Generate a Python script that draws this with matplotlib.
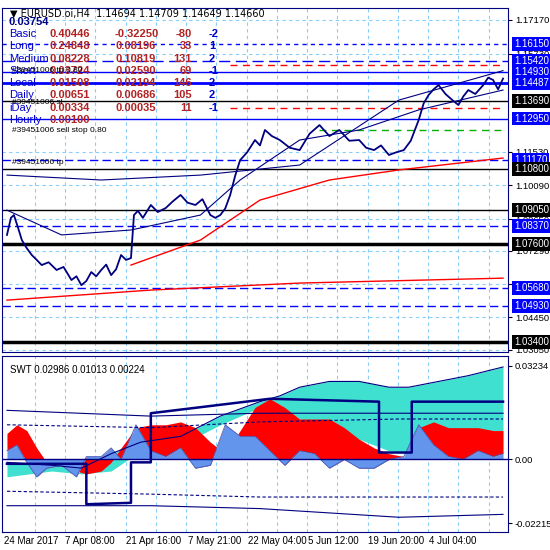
import matplotlib
matplotlib.use("Agg")
import matplotlib.pyplot as plt

# ---- price panel data (bar index, price) ----
price_x = [5, 9, 12, 16, 20, 25, 30, 35, 40, 47, 55, 62, 70, 75, 80, 85, 90, 95, 100, 105, 110, 115, 120, 125, 130,
           133, 137, 142, 150, 157, 165, 172, 180, 187, 195, 202, 210, 215, 220, 225, 230, 235, 240, 247, 255, 260,
           265, 272, 280, 290, 300, 310, 320, 330, 340, 350, 360, 367, 375, 382, 390, 397, 405, 412, 420, 425, 430,
           435, 440, 447, 455, 460, 465, 470, 477, 485, 490, 495, 500, 505]
price_y = [1.0797, 1.0870, 1.0882, 1.0830, 1.0775, 1.0740, 1.0711, 1.0690, 1.0668, 1.0680, 1.0647, 1.0660, 1.0604,
           1.0620, 1.0582, 1.0600, 1.0638, 1.0620, 1.0647, 1.0670, 1.0625, 1.0650, 1.0711, 1.0690, 1.0698,
           1.0882, 1.0900, 1.0870, 1.0925, 1.0895, 1.0912, 1.0940, 1.0968, 1.0935, 1.0925, 1.0950, 1.0882, 1.0870,
           1.0882, 1.0910, 1.0968, 1.1050, 1.1117, 1.1150, 1.1203, 1.1180, 1.1246, 1.1220, 1.1203, 1.1170, 1.1160,
           1.1230, 1.1267, 1.1220, 1.1246, 1.1200, 1.1203, 1.1170, 1.1160, 1.1180, 1.1139, 1.1150, 1.1160, 1.1200,
           1.1289, 1.1360, 1.1396, 1.1420, 1.1438, 1.1400, 1.1370, 1.1353, 1.1390, 1.1417, 1.1400, 1.1438, 1.1470,
           1.1460, 1.1420, 1.1466]
ma_red_x = [130, 200, 260, 330, 400, 505]
ma_red_y = [1.0668, 1.0775, 1.0946, 1.1032, 1.1075, 1.1126]
ma_red2_x = [5, 150, 300, 505]
ma_red2_y = [1.0518, 1.0561, 1.0591, 1.0612]
ma_blue_x = [5, 60, 130, 200, 240, 300, 360, 420, 505]
ma_blue_y = [1.0903, 1.0797, 1.0818, 1.0882, 1.1032, 1.1203, 1.1246, 1.1332, 1.1417]
ma_blue2_x = [5, 100, 200, 300, 400, 505]
ma_blue2_y = [1.1053, 1.1032, 1.1053, 1.1096, 1.1374, 1.1500]

# levels: price, colour, style, width, label box colour
levels = [
    (1.16150, "#0000ff", (0, (3, 3)), 1.0, "#0000ff"),
    (1.15420, "#0000ff", (0, (8, 4)), 1.0, "#0000ff"),
    (1.14930, "#0000ff", "-", 1.0, "#0000ff"),
    (1.14487, "#0000ff", "-", 2.0, "#0000ff"),
    (1.13690, "black", "-", 1.0, "black"),
    (1.12950, "#0000ff", "-", 1.0, "#0000ff"),
    (1.11170, "#0000ff", (0, (6, 3)), 1.0, "#0000ff"),
    (1.10800, "black", "-", 1.0, "black"),
    (1.09050, "black", "-", 1.0, "black"),
    (1.08370, "#0000ff", (0, (6, 3)), 1.0, "#0000ff"),
    (1.07600, "black", "-", 2.5, "black"),
    (1.05680, "#0000ff", (0, (6, 3)), 1.0, "#0000ff"),
    (1.04930, "#0000ff", (0, (6, 3)), 1.0, "#0000ff"),
    (1.03400, "black", "-", 2.5, "black"),
]
plain_ticks = [1.17170, 1.15730, 1.11530, 1.10090, 1.08650, 1.07290, 1.05850, 1.04450, 1.03050]
red_dash = [1.1525, 1.1340]
green_dash = [1.1245]

info_rows = [
    ("Basic", "0.40446", "-0.32250", "-80", "-2"),
    ("Long", "0.24848", "0.08196", "33", "1"),
    ("Medium", "0.08228", "0.10819", "131", "2"),
    ("Short", "0.03724", "0.02590", "69", "-1"),
    ("Local", "0.01508", "0.02194", "146", "2"),
    ("Daily", "0.00651", "0.00686", "105", "2"),
    ("iDay", "0.00334", "0.00035", "11", "-1"),
    ("Hourly", "0.00100", "", "", ""),
]

# ---- oscillator panel data ----
band_x = [5, 50, 80, 110, 140, 180, 220, 260, 280, 300, 330, 360, 390, 410, 440, 470, 505]
band_up = [-0.001, -0.002, -0.003, 0.002, 0.006, 0.008, 0.015, 0.020, 0.022, 0.025, 0.027, 0.027, 0.025, 0.025, 0.027, 0.029, 0.032]
band_lo = [-0.006, -0.004, -0.005, -0.004, 0.003, 0.005, 0.012, 0.018, 0.019, 0.014, 0.012, 0.007, 0.003, 0.002, 0.011, 0.010, 0.010]
osc_x = [5, 15, 25, 35, 45, 60, 75, 85, 100, 110, 120, 135, 150, 165, 180, 195, 210, 225, 240, 255, 270, 285,
         300, 315, 330, 345, 360, 375, 390, 405, 420, 435, 450, 465, 480, 495, 505]
red_v = [0.009, 0.012, 0.010, 0.004, -0.001, -0.002, -0.004, -0.005, -0.004, -0.001, 0.004, 0.011, 0.012, 0.012,
         0.013, 0.011, 0.006, 0.002, 0.010, 0.018, 0.021, 0.018, 0.014, 0.014, 0.014, 0.011, 0.007, 0.004, 0.002,
         0.001, 0.011, 0.013, 0.011, 0.011, 0.011, 0.010, 0.010]
blue_v = [0.003, 0.005, -0.001, -0.006, -0.003, -0.002, -0.006, 0.001, 0.001, 0.004, 0.000, 0.012, 0.003, 0.001,
          0.004, -0.003, -0.002, 0.012, 0.008, 0.008, 0.003, -0.002, 0.003, 0.002, -0.003, 0.000, -0.003, -0.003,
          0.000, 0.001, 0.012, 0.005, 0.001, 0.000, 0.003, 0.001, 0.002]
step_x = [5, 85, 85, 130, 130, 150, 150, 270, 380, 380, 413, 413, 505]
step_y = [-0.0015, -0.0015, -0.0155, -0.015, -0.001, -0.001, 0.016, 0.021, 0.020, 0.0024, 0.0024, 0.020, 0.020]
guide_x = [5, 150, 260, 400, 505]
guide_up = [0.017, 0.015, 0.016, 0.016, 0.016]
guide_upd = [0.012, 0.011, 0.013, 0.014, 0.014]
guide_lod = [-0.011, -0.012, -0.013, -0.013, -0.013]
guide_lo = [-0.016, -0.016, -0.017, -0.020, -0.019]

xtick_pos = [2, 64, 125, 187, 248, 308, 369, 430]
xtick_lab = ["24 Mar 2017", "7 Apr 08:00", "21 Apr 16:00", "7 May 21:00", "22 May 04:00",
             "5 Jun 12:00", "19 Jun 20:00", "4 Jul 04:00"]
grid_x = [33 + 30.5 * i for i in range(16)]

NAVY = "#000080"
GRIDC = "#87cefa"
plt.rcParams["font.family"] = ["Liberation Sans", "DejaVu Sans"]
fig = plt.figure(figsize=(5.5, 5.5), dpi=100)
ax = fig.add_axes([2 / 550, 1 - 352 / 550, 506 / 550, 344 / 550])
ax2 = fig.add_axes([2 / 550, 1 - 532 / 550, 506 / 550, 176 / 550])

for a in (ax, ax2):
    a.set_xlim(0, 510)
    for g in grid_x:
        a.axvline(g, color=GRIDC, lw=0.8, ls=(0, (3, 3)), zorder=0)
    a.tick_params(axis="x", length=0)
    a.yaxis.tick_right()
    a.tick_params(axis="y", labelsize=6.8, length=3, pad=2, colors="black")
    for s in a.spines.values():
        s.set_color(NAVY)

# price panel
ax.set_ylim(1.0296, 1.1768)
for p in plain_ticks:
    ax.axhline(p, color=GRIDC, lw=0.8, ls=(0, (3, 3)), zorder=0)
ax.set_yticks(plain_ticks)
ax.set_yticklabels([f"{p:.5f}" for p in plain_ticks])
ax.set_xticks([])
for p, c, ls, lw, bc in levels:
    ax.axhline(p, color=c, ls=ls, lw=lw, zorder=2)
    ax.text(1.012, p, f"{p:.5f}", transform=ax.get_yaxis_transform(), fontsize=7, color="white",
            va="center", ha="left", zorder=10,
            bbox=dict(boxstyle="square,pad=0.2", facecolor=bc, edgecolor="none"))
for p in red_dash:
    ax.plot([230, 505], [p, p], color="red", ls=(0, (5, 4)), lw=1.0, zorder=2)
for p in green_dash:
    ax.plot([320, 505], [p, p], color="#00b000", ls=(0, (5, 4)), lw=1.0, zorder=2)
ax.plot(ma_red_x, ma_red_y, color="red", lw=1.0, zorder=3)
ax.plot(ma_red2_x, ma_red2_y, color="red", lw=1.0, zorder=3)
ax.plot(ma_blue_x, ma_blue_y, color=NAVY, lw=0.8, zorder=3)
ax.plot(ma_blue2_x, ma_blue2_y, color=NAVY, lw=0.8, zorder=3)
ax.plot(price_x, price_y, color=NAVY, lw=1.3, zorder=4)

ax.text(0.015, 0.998, "\u25bc EURUSD.oi,H4  1.14694 1.14709 1.14649 1.14660", transform=ax.transAxes,
        fontsize=7, va="top", color="black", family=["DejaVu Sans"])
ax.text(0.012, 1 - 14 / 344, "0.03754", transform=ax.transAxes, fontsize=8, fontweight="bold", va="center", color=NAVY)
for i, (lab, v1, v2, n, sg) in enumerate(info_rows):
    yy = 1 - (26 + i * 12.3) / 344
    ax.text(7 / 506, yy, lab, transform=ax.transAxes, fontsize=8, color="#0000cc", va="center")
    ax.text(48 / 506, yy, v1, transform=ax.transAxes, fontsize=8, fontweight="bold", color="#b22222", va="center")
    ax.text(113 / 506, yy, v2, transform=ax.transAxes, fontsize=8, fontweight="bold", color="#b22222", va="center")
    ax.text(190 / 506, yy, n, transform=ax.transAxes, fontsize=8, fontweight="bold", color="#b22222", va="center", ha="right")
    ax.text(207 / 506, yy, sg, transform=ax.transAxes, fontsize=8, fontweight="bold", color="#0000cc", va="center")
for txt, py in [("#39451006 tp 0.80", 70), ("#39451006 sl", 102), ("#39451006 sell stop 0.80", 131), ("#39451006 tp", 163)]:
    ax.text(10 / 506, 1 - (py - 8) / 344, txt, transform=ax.transAxes, fontsize=6, color="black", va="center")

# oscillator panel
ax2.set_ylim(-0.0251, 0.0358)
ax2.fill_between(band_x, band_lo, band_up, color="#40e0d0", lw=0, zorder=1)
ax2.fill_between(osc_x, blue_v, red_v, color="red", lw=0, zorder=2)
ax2.fill_between(osc_x, 0, blue_v, color="#6495ed", lw=0, zorder=3)
ax2.plot(osc_x, blue_v, color="#4060c0", lw=0.6, zorder=3)
ax2.plot(band_x, band_up, color=NAVY, lw=0.8, zorder=4)
ax2.axhline(0, color=NAVY, lw=1.0, zorder=4)
ax2.plot(guide_x, guide_up, color=NAVY, lw=0.8, zorder=4)
ax2.plot(guide_x, guide_upd, color=NAVY, lw=0.8, ls=(0, (3, 2)), zorder=4)
ax2.plot(guide_x, guide_lod, color=NAVY, lw=0.8, ls=(0, (3, 2)), zorder=4)
ax2.plot(guide_x, guide_lo, color=NAVY, lw=0.8, zorder=4)
ax2.plot(step_x, step_y, color=NAVY, lw=1.8, zorder=5)
ax2.set_yticks([0.03234, 0.0, -0.02215])
ax2.set_yticklabels(["0.03234", "0.00", "-0.02215"])
ax2.set_xticks(xtick_pos)
ax2.set_xticklabels(xtick_lab, fontsize=7)
for t in ax2.get_xticklabels():
    t.set_ha("left")
ax2.tick_params(axis="x", pad=3)
ax2.text(0.015, 0.95, "SWT 0.02986 0.01013 0.00224", transform=ax2.transAxes, fontsize=7, va="top")

fig.savefig("out.png", dpi=100)
